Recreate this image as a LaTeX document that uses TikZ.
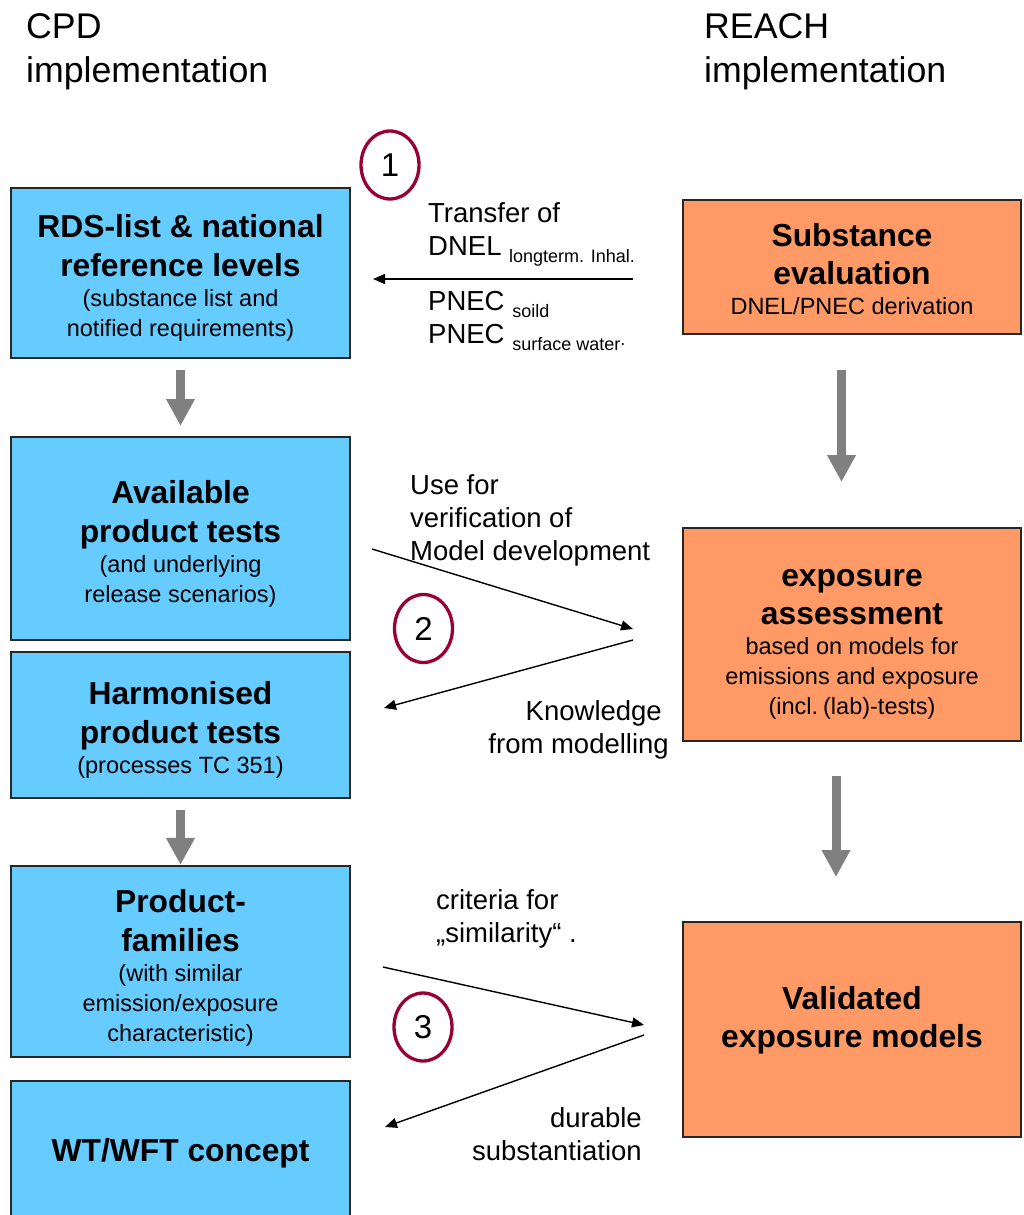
\documentclass[tikz,border=0pt]{standalone}
\usepackage{fontspec}
\setmainfont{Liberation Sans}
\usetikzlibrary{arrows.meta,shapes.geometric}
\definecolor{cpdblue}{HTML}{66CCFF}
\definecolor{reachorange}{HTML}{FF9966}
\definecolor{ringred}{HTML}{990033}
\newcommand{\bxhead}[1][39]{\bfseries\fontsize{31.8}{#1}\selectfont\spaceskip=\fontdimen2\font\relax\ignorespaces}
\newcommand{\bxsub}{\mdseries\fontsize{23.5}{30}\selectfont\spaceskip=\fontdimen2\font\relax\ignorespaces}
\newcommand{\bxtop}[1]{\rule{0pt}{#1}}
\newcommand{\lbsub}[1]{{\fontsize{18}{18}\selectfont\raisebox{-7pt}{#1}}}
\tikzset{CRbox/.style={rectangle,draw=black!85,line width=1.2pt,inner sep=0pt,text width=330pt,align=center},
         CRcpd/.style={CRbox,fill=cpdblue,minimum width=339pt},
         CRreach/.style={CRbox,fill=reachorange,minimum width=338pt},
         CRgray/.style={draw=black!50,line width=9pt,-{Triangle[length=27pt,width=27pt]}},
         CRarr/.style={line width=1.4pt,-{Triangle[length=12pt,width=10pt]}},
         CRring/.style={ellipse,draw=ringred,line width=3.3pt,inner sep=0pt,minimum width=58pt,minimum height=68pt,font=\fontsize{33}{33}\selectfont},
         CRlab/.style={inner sep=0pt,font=\fontsize{27.5}{33}\selectfont},
         CRhead/.style={inner sep=0pt,anchor=west,align=left,font=\fontsize{35.7}{44}\selectfont}}
\begin{document}
\begin{tikzpicture}[x=1pt,y=-1pt]
  \useasboundingbox[fill=white] (0,0) rectangle (1023,1215);
  \node[CRhead] (cpdhd) at (26,52) {CPD\\implementation};
  \node[CRhead] (reachhd) at (704,52) {REACH\\implementation};
  % CPD side
  \node[CRcpd,minimum height=170pt] (rds) at (180.5,273) {{\bxhead\bxtop{33.2pt}RDS-list \& national\\reference levels\par}{\bxsub (substance list and\\notified requirements)\par}};
  \node[CRcpd,minimum height=203pt] (avail) at (180.5,538.5) {{\bxhead\bxtop{33.2pt}Available\\product tests\par}{\bxsub (and underlying\\release scenarios)\par}};
  \node[CRcpd,minimum height=146pt] (harm) at (180.5,725) {{\bxhead\bxtop{33.2pt}Harmonised\\product tests\par}{\bxsub (processes TC 351)\par}};
  \node[CRcpd,minimum height=191pt] (prodf) at (180.5,961.5) {{\bxhead\bxtop{35.2pt}Product-\\families\par}{\bxsub (with similar\\emission/exposure\\characteristic)\par}};
  \node[CRcpd,minimum height=138pt] (wtwft) at (180.5,1150) {{\bxhead\bxtop{29.2pt}WT/WFT concept\par}};
  % REACH side
  \node[CRreach,minimum height=134pt] (subst) at (852,267) {{\bxhead[38]\bxtop{28.2pt}Substance\\evaluation\par}{\bxsub DNEL/PNEC derivation\par}};
  \node[CRreach,minimum height=213pt] (expo) at (852,634.5) {{\bxhead[38]\bxtop{36pt}exposure\\assessment\par}{\bxsub based on models for\\emissions and exposure\\(incl. (lab)-tests)\par}};
  \node[CRreach,minimum height=215pt] (valid) at (852,1029.5) {{\bxhead[38] Validated\\exposure models\rule[-24.7pt]{0pt}{0pt}\par}};
  \draw[CRgray,shorten <=11.4pt,shorten >=10.4pt] (rds.south) -- (avail.north);
  \draw[CRgray,shorten <=11.4pt,shorten >=0.5pt] (harm.south) -- (prodf.north);
  \draw[CRgray,shorten <=35.4pt,shorten >=45.4pt] ([xshift=-10.5pt]subst.south) -- ([xshift=-10.5pt]expo.north);
  \draw[CRgray,shorten <=34.4pt,shorten >=44.4pt] ([xshift=-16pt]expo.south) -- ([xshift=-16pt]valid.north);
  % links between the two columns
  \coordinate (t1a) at (633,279); \coordinate (t1b) at (373,279);
  \coordinate (u2a) at (372,549); \coordinate (u2b) at (633,629);
  \coordinate (k2a) at (633,640); \coordinate (k2b) at (384,708);
  \coordinate (c3a) at (383,967); \coordinate (c3b) at (644,1025);
  \coordinate (d3a) at (644,1035); \coordinate (d3b) at (385,1127);
  \foreach \a/\b in {t1a/t1b,u2a/u2b,k2a/k2b,c3a/c3b,d3a/d3b}
    \draw[CRarr] (\a) -- (\b);
  \foreach \n/\x/\y in {1/390/165,2/423.5/628.5,3/423/1027}
    \node[CRring] (ring\n) at (\x,\y) {\n};
  \node[CRlab,anchor=west,align=left] (transfer) at (428,234.5) {Transfer of\\DNEL \lbsub{longterm. Inhal.}};
  \node[CRlab,anchor=west,align=left] (pnec) at (428,321) {PNEC \lbsub{soild}\\PNEC \lbsub{surface water\raisebox{5pt}{.}}};
  \node[CRlab,anchor=west,align=left] (usefor) at (410,520.5) {Use for\\verification of\\Model development};
  \node[CRlab,anchor=east,align=right] (knowl) at (669,730) {Knowledge\hspace*{7pt}\\from modelling};
  \node[CRlab,anchor=west,align=left] (crit) at (436,919) {criteria for\\„similarity“ .};
  \node[CRlab,anchor=east,align=right] (durable) at (642,1134.5) {durable\\substantiation};
\end{tikzpicture}
\end{document}
